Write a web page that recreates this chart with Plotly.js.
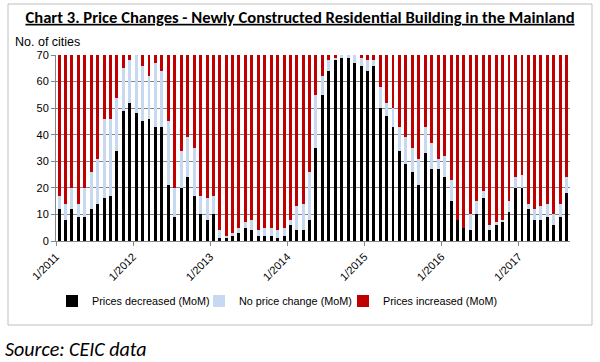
<!DOCTYPE html>
<html>
<head>
<meta charset="utf-8">
<script src="https://cdn.plot.ly/plotly-3.0.1.min.js"></script>
<style>
  html, body { margin: 0; padding: 0; background: #fff; }
  #chart { width: 600px; height: 362px; }
</style>
</head>
<body>
<div id="chart"></div>
<script>
const months = [
  '2011-01','2011-02','2011-03','2011-04','2011-05','2011-06','2011-07','2011-08','2011-09','2011-10','2011-11','2011-12',
  '2012-01','2012-02','2012-03','2012-04','2012-05','2012-06','2012-07','2012-08','2012-09','2012-10','2012-11','2012-12',
  '2013-01','2013-02','2013-03','2013-04','2013-05','2013-06','2013-07','2013-08','2013-09','2013-10','2013-11','2013-12',
  '2014-01','2014-02','2014-03','2014-04','2014-05','2014-06','2014-07','2014-08','2014-09','2014-10','2014-11','2014-12',
  '2015-01','2015-02','2015-03','2015-04','2015-05','2015-06','2015-07','2015-08','2015-09','2015-10','2015-11','2015-12',
  '2016-01','2016-02','2016-03','2016-04','2016-05','2016-06','2016-07','2016-08','2016-09','2016-10','2016-11','2016-12',
  '2017-01','2017-02','2017-03','2017-04','2017-05','2017-06','2017-07','2017-08'
];

const pricesDecreased = [
  12, 8, 12, 9, 9, 12, 14, 16, 17, 34, 49, 52,
  48, 45, 46, 43, 43, 21, 9, 20, 24, 17, 10, 8,
  10, 1, 1, 2, 3, 5, 4, 2, 2, 2, 1, 2,
  6, 4, 4, 8, 35, 55, 64, 68, 69, 69, 67, 66,
  64, 66, 50, 47, 43, 34, 29, 26, 21, 33, 27, 27,
  24, 15, 8, 5, 4, 10, 16, 4, 6, 7, 11, 20,
  20, 12, 8, 8, 9, 6, 9, 18
];

const noPriceChange = [
  5, 6, 8, 5, 11, 14, 17, 30, 29, 20, 16, 16,
  22, 21, 16, 24, 21, 24, 11, 14, 15, 18, 7, 8,
  7, 3, 1, 1, 2, 2, 4, 2, 3, 3, 3, 3,
  2, 9, 10, 18, 20, 7, 4, 1, 1, 1, 3, 3,
  4, 2, 8, 5, 7, 9, 10, 9, 10, 10, 10, 4,
  8, 8, 0, 0, 6, 5, 3, 2, 1, 1, 4, 4,
  5, 2, 4, 5, 5, 4, 5, 6
];

const pricesIncreased = [
  53, 56, 50, 56, 50, 44, 39, 24, 24, 16, 5, 2,
  0, 4, 8, 3, 6, 25, 50, 36, 31, 35, 53, 54,
  53, 66, 68, 67, 65, 63, 62, 66, 65, 65, 66, 65,
  62, 57, 56, 44, 15, 8, 2, 1, 0, 0, 0, 1,
  2, 2, 12, 18, 20, 27, 31, 35, 39, 27, 33, 39,
  38, 47, 62, 65, 60, 55, 51, 64, 63, 62, 55, 46,
  45, 56, 58, 57, 56, 60, 56, 46
];

const seriesNames = ['Prices decreased (MoM)', 'No price change (MoM)', 'Prices increased (MoM)'];
const seriesColors = ['#000000', '#c6d9f1', '#c00000'];
const seriesValues = [pricesDecreased, noPriceChange, pricesIncreased];
const legendIds = ['legend', 'legend2', 'legend3'];

const barWidthMs = 14 * 24 * 3600 * 1000;

const traces = seriesValues.map((vals, i) => ({
  type: 'bar',
  x: months,
  y: vals,
  name: seriesNames[i],
  legend: legendIds[i],
  xperiod: 'M1',
  xperiodalignment: 'middle',
  width: barWidthMs,
  marker: { color: seriesColors[i], line: { width: 0 } },
  hoverinfo: 'x+y+name'
}));

const axisGray = '#868686';
const arial = 'Liberation Sans, Arial, sans-serif';
const calibri = 'Carlito, Lato, Calibri, sans-serif';

// plot area: x 56..570, y 55..241 (pixels)
const px = (p) => (p - 56) / 514;
const py = (p) => (241 - p) / 186;

function legendAt(textLeftPx) {
  return {
    orientation: 'h',
    x: px(textLeftPx - 41),
    xanchor: 'left',
    y: py(301),
    yanchor: 'middle',
    font: { family: arial, size: 10.8, color: '#000' },
    itemwidth: 30,
    bgcolor: 'rgba(0,0,0,0)'
  };
}

const layout = {
  width: 600,
  height: 362,
  margin: { l: 56, r: 30, t: 55, b: 121 },
  paper_bgcolor: '#fff',
  plot_bgcolor: '#fff',
  barmode: 'stack',
  font: { family: arial, size: 11, color: '#000' },
  showlegend: true,
  title: {
    text: 'Chart 3. Price Changes - Newly Constructed Residential Building in the Mainland',
    font: { family: calibri, size: 16.6, color: '#000', weight: 'bold', lineposition: 'under' },
    xref: 'container', x: 0.5, xanchor: 'center',
    yref: 'container', y: 1 - 17 / 362, yanchor: 'middle'
  },
  xaxis: {
    type: 'date',
    range: ['2011-01-01', '2017-09-01'],
    tick0: '2011-01-01',
    dtick: 'M12',
    tickformat: '%-m/%Y',
    tickangle: -45,
    ticks: 'outside',
    ticklen: 4,
    tickcolor: axisGray,
    showgrid: false,
    showline: true,
    linecolor: axisGray,
    linewidth: 1,
    tickfont: { family: arial, size: 11, color: '#000' },
    fixedrange: true
  },
  yaxis: {
    range: [0, 70],
    dtick: 10,
    tick0: 0,
    ticks: 'outside',
    ticklen: 4,
    tickcolor: axisGray,
    showgrid: true,
    gridcolor: axisGray,
    gridwidth: 1,
    showline: true,
    linecolor: axisGray,
    linewidth: 1,
    zeroline: false,
    tickfont: { family: arial, size: 11, color: '#000' },
    fixedrange: true
  },
  legend: legendAt(93),
  legend2: legendAt(240),
  legend3: legendAt(384),
  annotations: [
    {
      text: 'No. of cities',
      xref: 'paper', yref: 'paper',
      x: px(13), y: py(42),
      xanchor: 'left', yanchor: 'middle',
      showarrow: false,
      font: { family: arial, size: 12.5, color: '#000' }
    },
    {
      text: 'Source: CEIC data',
      xref: 'paper', yref: 'paper',
      x: px(3), y: py(349),
      xanchor: 'left', yanchor: 'middle',
      showarrow: false,
      font: { family: calibri, size: 20, color: '#000', style: 'italic' }
    }
  ],
  shapes: [
    {
      type: 'rect',
      xref: 'paper', yref: 'paper',
      x0: px(8), x1: px(592),
      y0: py(325), y1: py(4),
      line: { color: '#bfbfbf', width: 1 },
      fillcolor: 'rgba(0,0,0,0)',
      layer: 'below'
    }
  ]
};

Plotly.newPlot('chart', traces, layout, { displayModeBar: false, staticPlot: true });
</script>
</body>
</html>
